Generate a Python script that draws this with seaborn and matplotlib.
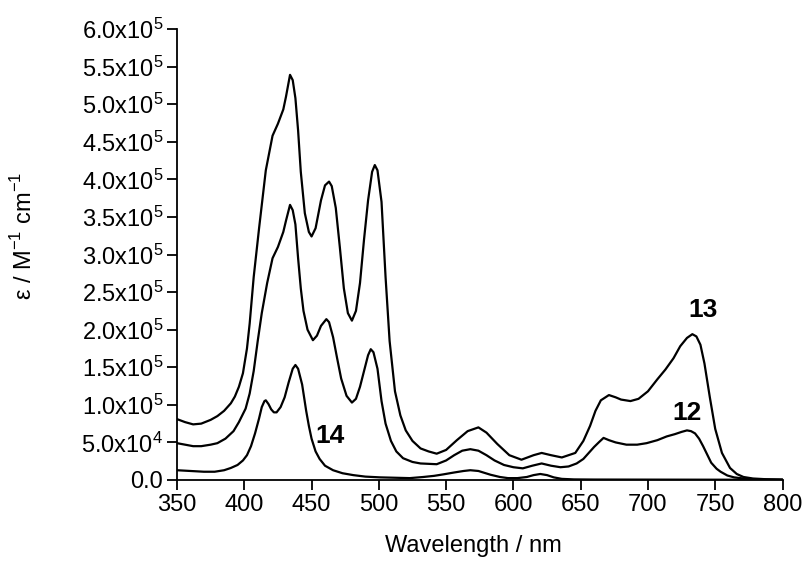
import numpy as np
import pandas as pd
import matplotlib
matplotlib.use('Agg')
import matplotlib.pyplot as plt
import seaborn as sns

# 흡수 스펙트럼 데이터 (파장 nm, 몰흡광계수 x1e5)
wl13 = [350, 356, 362, 368, 375, 380, 385, 390, 393, 396, 399, 402, 404, 407, 411, 416, 421,
        425, 429, 431, 434, 436, 438, 440, 442, 445, 448, 450, 453, 457, 460, 463, 465,
        468, 471, 474, 477, 480, 483, 486, 489, 492, 495, 497, 499, 502, 505, 508, 512,
        516, 520, 525, 531, 537, 543, 550, 558, 566, 574, 580, 588, 597, 606, 615, 621,
        628, 636, 646, 652, 657, 661, 665, 671, 676, 680, 687, 693, 700, 707, 713, 719,
        724, 729, 733, 736, 739, 742, 746, 750, 755, 761, 766, 771, 778, 788, 800]
eps13 = [0.81, 0.77, 0.74, 0.75, 0.80, 0.85, 0.92, 1.02, 1.11, 1.24, 1.42, 1.75, 2.08, 2.70, 3.35, 4.12, 4.58,
         4.74, 4.93, 5.10, 5.39, 5.32, 5.08, 4.65, 4.10, 3.55, 3.30, 3.24, 3.35, 3.72, 3.92, 3.97, 3.91,
         3.62, 3.10, 2.55, 2.22, 2.12, 2.25, 2.62, 3.20, 3.72, 4.10, 4.19, 4.12, 3.70, 2.70, 1.85, 1.18,
         0.86, 0.66, 0.52, 0.42, 0.38, 0.35, 0.40, 0.53, 0.65, 0.70, 0.63, 0.48, 0.33, 0.27, 0.33, 0.36,
         0.33, 0.30, 0.36, 0.52, 0.72, 0.92, 1.06, 1.13, 1.10, 1.07, 1.05, 1.08, 1.18, 1.34, 1.47, 1.62,
         1.78, 1.89, 1.94, 1.91, 1.80, 1.55, 1.10, 0.68, 0.36, 0.16, 0.08, 0.04, 0.02, 0.01, 0.005]

wl12 = [350, 356, 362, 368, 375, 380, 386, 392, 396, 401, 404, 407, 410, 413, 417, 421,
        425, 429, 431, 434, 436, 438, 440, 442, 444, 447, 451, 454, 457, 461, 463, 466,
        469, 472, 476, 480, 483, 486, 489, 492, 494, 496, 499, 502, 505, 509, 513, 518,
        525, 531, 543, 550, 556, 562, 568, 574, 580, 586, 593, 600, 607, 614, 621, 628,
        635, 641, 647, 652, 656, 660, 664, 667, 671, 676, 684, 692, 699, 707, 714, 720,
        725, 729, 732, 735, 738, 741, 744, 747, 751, 754, 759, 764, 771, 779, 790, 800]
eps12 = [0.49, 0.47, 0.45, 0.45, 0.47, 0.49, 0.55, 0.65, 0.77, 0.95, 1.15, 1.45, 1.85, 2.22, 2.62, 2.95,
         3.10, 3.30, 3.45, 3.66, 3.59, 3.40, 2.95, 2.55, 2.25, 2.00, 1.86, 1.92, 2.05, 2.14, 2.10, 1.90,
         1.62, 1.35, 1.12, 1.03, 1.08, 1.24, 1.45, 1.66, 1.74, 1.70, 1.48, 1.05, 0.75, 0.52, 0.38, 0.29,
         0.24, 0.22, 0.21, 0.26, 0.33, 0.39, 0.41, 0.39, 0.33, 0.26, 0.20, 0.17, 0.155, 0.19, 0.22, 0.19,
         0.17, 0.18, 0.22, 0.28, 0.36, 0.44, 0.51, 0.56, 0.53, 0.50, 0.47, 0.47, 0.49, 0.53, 0.58, 0.61,
         0.64, 0.66, 0.65, 0.62, 0.55, 0.45, 0.34, 0.23, 0.15, 0.11, 0.06, 0.035, 0.02, 0.01, 0.005, 0.003]

wl14 = [350, 360, 370, 378, 385, 390, 395, 399, 402, 405, 408, 411, 413, 415, 416, 418,
        420, 422, 424, 427, 430, 433, 436, 438, 440, 443, 446, 448, 450, 453, 456, 460,
        466, 473, 481, 490, 501, 512, 523, 533, 541, 548, 556, 563, 568, 574, 583, 590,
        596, 603, 610, 615, 620, 625, 630, 636, 645, 660, 700, 750, 800]
eps14 = [0.13, 0.12, 0.11, 0.11, 0.13, 0.16, 0.20, 0.26, 0.33, 0.45, 0.62, 0.82, 0.97, 1.05, 1.06, 1.01,
         0.94, 0.90, 0.90, 0.97, 1.10, 1.30, 1.48, 1.53, 1.48, 1.27, 0.92, 0.72, 0.55, 0.38, 0.28, 0.19,
         0.13, 0.09, 0.065, 0.045, 0.035, 0.03, 0.025, 0.04, 0.055, 0.075, 0.10, 0.12, 0.13, 0.12, 0.07, 0.04,
         0.025, 0.025, 0.04, 0.065, 0.08, 0.065, 0.035, 0.015, 0.008, 0.006, 0.005, 0.004, 0.003]

# 화합물 라벨 (번호, 위치)
labels = ['13', '12', '14']
label_wl = [741, 729, 464]
label_eps = [2.26, 0.89, 0.58]

yticks = [0, 0.5, 1.0, 1.5, 2.0, 2.5, 3.0, 3.5, 4.0, 4.5, 5.0, 5.5, 6.0]
xticks = [350, 400, 450, 500, 550, 600, 650, 700, 750, 800]

df = pd.concat([
    pd.DataFrame({'wl': wl13, 'eps': np.array(eps13) * 1e5, 'cmpd': '13'}),
    pd.DataFrame({'wl': wl12, 'eps': np.array(eps12) * 1e5, 'cmpd': '12'}),
    pd.DataFrame({'wl': wl14, 'eps': np.array(eps14) * 1e5, 'cmpd': '14'}),
])

sns.set_style('ticks')
plt.rcParams['font.family'] = ['Liberation Sans', 'DejaVu Sans']
plt.rcParams['mathtext.fontset'] = 'custom'
plt.rcParams['mathtext.rm'] = 'Liberation Sans'
plt.rcParams['text.color'] = 'black'
plt.rcParams['axes.labelcolor'] = 'black'
plt.rcParams['xtick.color'] = 'black'
plt.rcParams['ytick.color'] = 'black'

fig = plt.figure(figsize=(8.06, 5.67), dpi=100)
ax = fig.add_axes([177 / 806, 1 - 480 / 567, 605.5 / 806, 451 / 567])

sns.lineplot(data=df, x='wl', y='eps', hue='cmpd', units='cmpd', estimator=None,
             sort=False, palette=['black'] * 3, linewidth=1.6, legend=False, ax=ax)

for lab, lx, ly in zip(labels, label_wl, label_eps):
    ax.text(lx, ly * 1e5, lab, fontsize=19, fontweight='bold', ha='center', va='center',
            color='black')

ax.set_xlim(350, 800)
ax.set_ylim(0, 6e5)
ax.set_xticks(xticks)
ax.set_xticklabels([str(t) for t in xticks], fontsize=17)

def ylab(v):
    if v == 0:
        return '0.0'
    e = int(np.floor(np.log10(v * 1e5)))
    m = v * 1e5 / 10 ** e
    return r'$\mathregular{%.1fx10^{%d}}$' % (m, e)

ax.set_yticks([v * 1e5 for v in yticks])
ax.set_yticklabels([ylab(v) for v in yticks], fontsize=17)

sns.despine(ax=ax)
for s in ['left', 'bottom']:
    ax.spines[s].set_linewidth(1.3)
    ax.spines[s].set_color('black')
ax.tick_params(direction='out', length=7, width=1.3, color='black', labelcolor='black', pad=3)

ax.set_xlabel('Wavelength / nm', fontsize=17, color='black')
ax.set_ylabel(r'ε / M$^{\mathregular{-1}}$ cm$^{\mathregular{-1}}$', fontsize=17, color='black')
ax.xaxis.set_label_coords(0.49, -0.122)
ax.xaxis.label.set_va('top')
ax.yaxis.set_label_coords(-0.232, 0.54)

fig.savefig('out.png', dpi=100)
